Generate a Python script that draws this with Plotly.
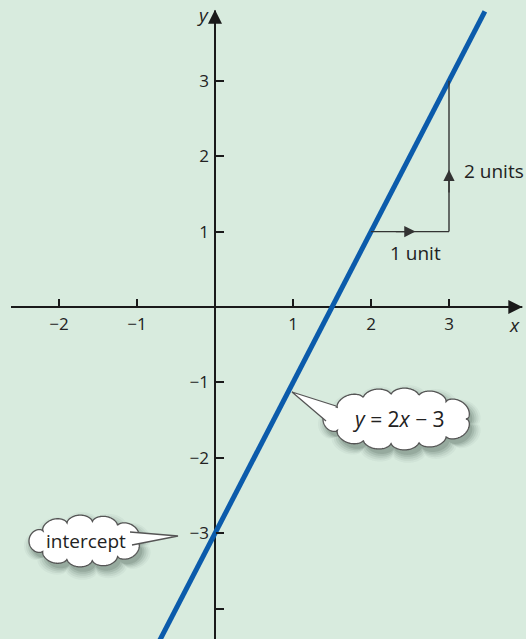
import numpy as np
import plotly.graph_objects as go

# ---- data ----
line_x = [-0.75, 3.46]          # ends of the plotted line y = 2x - 3
line_y = [-4.50, 3.92]
x_ticks = [-2, -1, 1, 2, 3]
x_tick_labels = ["\u22122", "\u22121", "1", "2", "3"]
y_ticks = [-4, -3, -2, -1, 1, 2, 3]
y_tick_labels = ["", "\u22123", "\u22122", "\u22121", "1", "2", "3"]
run_x = [2, 3]                   # 1 unit across
run_y = [1, 1]
rise_x = [3, 3]                  # 2 units up
rise_y = [1, 3]

# ---- layout geometry ----
W, H = 526, 639
XR = [-215 / 78, 311 / 78]
YR = [-4.40, 4.07]
SX = W / (XR[1] - XR[0])
SY = H / (YR[1] - YR[0])
BG = "#d8ebde"
BLUE = "#0b5bab"
FONT = "Open Sans"

fig = go.Figure()
fig.add_trace(go.Scatter(x=line_x, y=line_y, mode="lines",
                         line=dict(color=BLUE, width=5), hoverinfo="skip",
                         showlegend=False))

shapes = []
annotations = []

# axes lines
shapes.append(dict(type="line", x0=XR[0] + 11 / SX, x1=3.94, y0=0, y1=0,
                   line=dict(color="#1a1a1a", width=2), layer="below"))
shapes.append(dict(type="line", x0=0, x1=0, y0=YR[0], y1=3.93,
                   line=dict(color="#1a1a1a", width=2), layer="below"))
# axes arrowheads
annotations.append(dict(x=3.94, y=0, ax=-14, ay=0, xref="x", yref="y",
                        showarrow=True, arrowhead=2, arrowsize=1.4,
                        arrowwidth=2, arrowcolor="#1a1a1a", text=""))
annotations.append(dict(x=0, y=3.94, ax=0, ay=14, xref="x", yref="y",
                        showarrow=True, arrowhead=2, arrowsize=1.4,
                        arrowwidth=2, arrowcolor="#1a1a1a", text=""))
annotations.append(dict(x=3.84, y=-0.24, text="<i>x</i>", showarrow=False,
                        font=dict(family=FONT, size=19, color="#222")))
annotations.append(dict(x=-0.16, y=3.87, text="<i>y</i>", showarrow=False,
                        font=dict(family=FONT, size=19, color="#222")))

# slope triangle
shapes.append(dict(type="line", x0=run_x[0], x1=run_x[1], y0=run_y[0], y1=run_y[1],
                   line=dict(color="#333", width=1.4)))
shapes.append(dict(type="line", x0=rise_x[0], x1=rise_x[1], y0=rise_y[0], y1=rise_y[1],
                   line=dict(color="#333", width=1.4)))
annotations.append(dict(x=2.57, y=1, ax=2.3, ay=1, xref="x", yref="y",
                        axref="x", ayref="y", showarrow=True, arrowhead=2,
                        arrowsize=1.6, arrowwidth=1.4, arrowcolor="#333", text=""))
annotations.append(dict(x=3, y=1.82, ax=3, ay=1.5, xref="x", yref="y",
                        axref="x", ayref="y", showarrow=True, arrowhead=2,
                        arrowsize=1.6, arrowwidth=1.4, arrowcolor="#333", text=""))
annotations.append(dict(x=2.57, y=0.72, text="1 unit", showarrow=False,
                        font=dict(family=FONT, size=19, color="#222")))
annotations.append(dict(x=3.17, y=1.81, text="2 units", showarrow=False,
                        xanchor="left",
                        font=dict(family=FONT, size=19, color="#222")))


def to_data(px, py, cx, cy):
    return cx + px / SX, cy - py / SY


def cloud_path(cx, cy, rx, ry, n, bump, dx=0.0, dy=0.0, grow=0.0):
    t = np.linspace(0, 2 * np.pi, 2000)
    ex = (rx + grow) * np.cos(t)
    ey = (ry + grow) * np.sin(t)
    seg = np.hypot(np.diff(ex), np.diff(ey))
    L = np.concatenate([[0], np.cumsum(seg)])
    s = np.abs(np.sin(np.pi * n * L / L[-1])) ** 0.5
    nx = np.cos(t) / (rx + grow)
    ny = np.sin(t) / (ry + grow)
    nn = np.hypot(nx, ny)
    nx, ny = nx / nn, ny / nn
    px = ex + bump * s * nx + dx
    py = ey + bump * s * ny + dy
    pts = [to_data(a, b, cx, cy) for a, b in zip(px[::4], py[::4])]
    return "M" + "L".join(f"{a:.4f},{b:.4f}" for a, b in pts) + "Z"


def callout(cx, cy, rx, ry, n, tip, base1, base2, text, size):
    # shadow
    for g, op in [(8, 0.04), (6, 0.06), (4, 0.08), (2, 0.10), (0, 0.12)]:
        shapes.append(dict(type="path",
                           path=cloud_path(cx, cy, rx, ry, n, 7, dx=3, dy=5, grow=g),
                           fillcolor=f"rgba(30,50,40,{op})", line=dict(width=0)))
    shapes.append(dict(type="path", path=cloud_path(cx, cy, rx, ry, n, 7),
                       fillcolor="white", line=dict(color="#555", width=1.3)))
    # tail
    bx1, by1 = base1
    bx2, by2 = base2
    tx, ty = tip
    shapes.append(dict(type="path",
                       path=f"M{bx1},{by1}L{tx},{ty}L{bx2},{by2}Z",
                       fillcolor="white", line=dict(width=0)))
    shapes.append(dict(type="path", path=f"M{bx1},{by1}L{tx},{ty}L{bx2},{by2}",
                       fillcolor="rgba(0,0,0,0)", line=dict(color="#555", width=1.3)))
    annotations.append(dict(x=cx, y=cy, text=text, showarrow=False,
                            font=dict(family=FONT, size=size, color="#222")))


def pxy(px, py):
    return XR[0] + px / SX, YR[1] - py / SY


# equation callout
cxe, cye = pxy(398, 419)
callout(cxe, cye, 68, 24, 11, pxy(292, 392), pxy(336, 406), pxy(326, 421),
        "<i>y</i> = 2<i>x</i> \u2212 3", 21)
# intercept callout
cxi, cyi = pxy(86, 541)
callout(cxi, cyi, 50, 19, 9, pxy(178, 536), pxy(130, 532), pxy(132, 545),
        "intercept", 19)

fig.update_layout(
    width=W, height=H, margin=dict(l=0, r=0, t=0, b=0),
    paper_bgcolor=BG, plot_bgcolor=BG,
    shapes=shapes, annotations=annotations, showlegend=False,
    xaxis=dict(range=XR, showgrid=False, zeroline=False, showline=False,
               tickvals=x_ticks, ticktext=x_tick_labels, ticks="inside",
               ticklen=8, tickwidth=2, tickcolor="#1a1a1a",
               anchor="free", position=(0 - YR[0]) / (YR[1] - YR[0]),
               tickfont=dict(family=FONT, size=17, color="#222"),
               ticklabelstandoff=5, fixedrange=True),
    yaxis=dict(range=YR, showgrid=False, zeroline=False, showline=False,
               tickvals=y_ticks, ticktext=y_tick_labels, ticks="inside",
               ticklen=8, tickwidth=2, tickcolor="#1a1a1a",
               anchor="free", position=(0 - XR[0]) / (XR[1] - XR[0]),
               tickfont=dict(family=FONT, size=17, color="#222"),
               ticklabelstandoff=6, fixedrange=True),
)

fig.write_html("out.html", config={"displayModeBar": False},
               post_script="document.body.style.margin='0';"
                           "document.body.style.overflow='hidden';"
                           "document.body.style.background='" + BG + "';")
